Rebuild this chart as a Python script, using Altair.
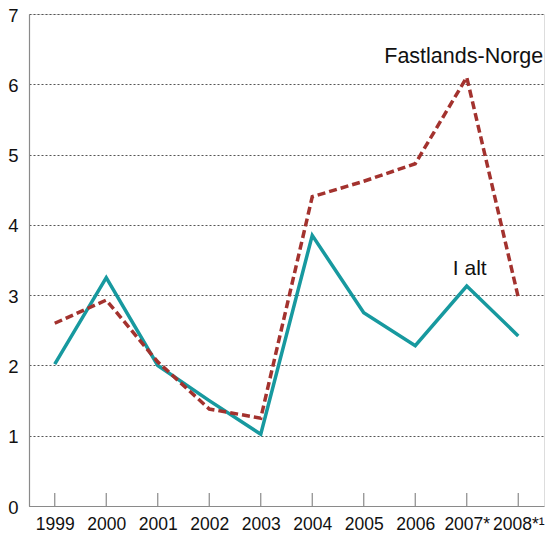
import altair as alt
import pandas as pd

years = ["1999", "2000", "2001", "2002", "2003", "2004", "2005", "2006", "2007*", "2008*¹"]
i_alt = [2.02, 3.25, 2.0, 1.5, 1.02, 3.85, 2.75, 2.28, 3.13, 2.42]
fastland = [2.6, 2.93, 2.05, 1.38, 1.25, 4.4, 4.62, 4.87, 6.1, 2.97]
label_text = ["Fastlands-Norge", "I alt"]
label_year = ["2007*", "2007*"]
label_val = [6.395, 3.365]

df_i = pd.DataFrame({"year": years, "value": i_alt})
df_f = pd.DataFrame({"year": years, "value": fastland})
df_t = pd.DataFrame({"year": years})
df_lab = pd.DataFrame({"year": label_year, "value": label_val, "text": label_text})

W, H = 515, 492

xscale = alt.Scale(type="point", padding=0.5)
xenc = alt.X("year:N", sort=years, scale=xscale,
             axis=alt.Axis(title=None, labelAngle=0, ticks=False, domain=True,
                           domainColor="#8a8a8a", domainWidth=1.2,
                           labelFontSize=17.5, labelPadding=9, labelColor="#111",
                           labelFont="Liberation Sans", grid=False))
yscale = alt.Scale(domain=[0, 7], nice=False, zero=True)
yenc = alt.Y("value:Q", scale=yscale,
             axis=alt.Axis(title=None, values=[0, 1, 2, 3, 4, 5, 6, 7], format="d",
                           ticks=False, domain=True, domainColor="#8a8a8a", domainWidth=1.2,
                           grid=True, gridDash=[2, 2], gridColor="#555", gridWidth=1,
                           labelFontSize=18.5, labelPadding=11, labelColor="#111",
                           labelFont="Liberation Sans", labelOffset=1))

ticks = alt.Chart(df_t).mark_rule(color="#8a8a8a", strokeWidth=1.2).encode(
    x=alt.X("year:N", sort=years, scale=xscale),
    y=alt.value(H), y2=alt.value(H - 13))

line_f = alt.Chart(df_f).mark_line(color="#a3322e", strokeWidth=3.5,
                                    strokeDash=[8, 4]).encode(x=xenc, y=yenc)
line_i = alt.Chart(df_i).mark_line(color="#17999f", strokeWidth=3.5).encode(x=xenc, y=yenc)

fl = df_lab.iloc[[0]]
il = df_lab.iloc[[1]]
txt_f = alt.Chart(fl).mark_text(fontSize=21.5, font="Liberation Sans", color="#111",
                                 align="center", baseline="middle", dx=-3).encode(
    x=alt.X("year:N", sort=years), y=alt.Y("value:Q", scale=yscale), text="text:N")
txt_i = alt.Chart(il).mark_text(fontSize=21, font="Liberation Sans", color="#111",
                                 align="center", baseline="middle", dx=3).encode(
    x=alt.X("year:N", sort=years), y=alt.Y("value:Q", scale=yscale), text="text:N")

chart = alt.layer(line_i, line_f, ticks, txt_f, txt_i).properties(
    width=W, height=H,
    autosize=alt.AutoSizeParams(type="none"),
    padding={"left": 21, "top": 6, "right": 2, "bottom": 27},
).configure_view(stroke=None).configure(background="white")

chart.save("out.html", embed_options={"renderer": "svg", "actions": False})
